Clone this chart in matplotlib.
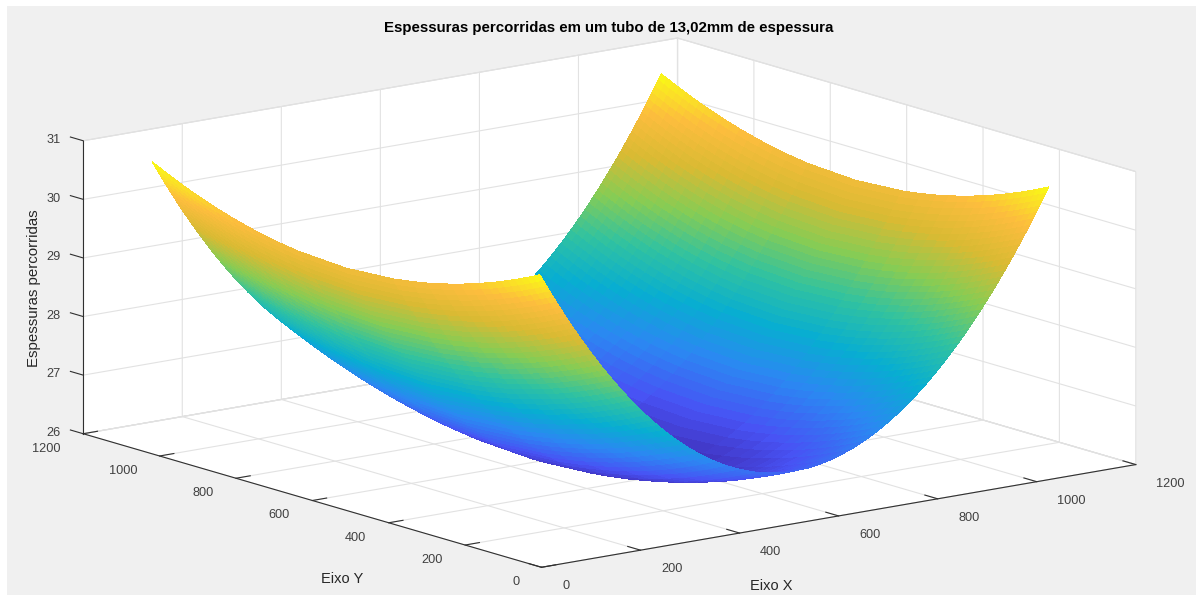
import matplotlib
matplotlib.use('Agg')
import matplotlib.pyplot as plt
from matplotlib.colors import LinearSegmentedColormap, Normalize
from matplotlib.patches import Rectangle
import numpy as np

plt.rcParams['font.family'] = ['Liberation Sans', 'DejaVu Sans']

x_ticks = [0, 200, 400, 600, 800, 1000, 1200]
y_ticks = [0, 200, 400, 600, 800, 1000, 1200]
z_ticks = [26, 27, 28, 29, 30, 31]

# stations are closer at the ends, where the curve is steep
x_pos = [80, 86.3, 92.7, 99.2, 105.7, 112.4, 119.1, 125.9, 132.8, 139.9, 147,
         154.3, 161.7, 169.2, 176.9, 184.7, 192.7, 200.7, 209, 217.5, 226.2,
         235, 244.1, 253.4, 263, 272.9, 283.1, 293.6, 304.5, 315.9, 327.7,
         340.2, 353.1, 367, 381.6, 397.4, 414.5, 433.5, 454.9, 480.5, 513.7,
         537.3, 566, 594, 622, 650.7, 674.3, 707.5, 733.1, 754.5, 773.5,
         790.6, 806.4, 821, 834.9, 847.8, 860.3, 872.1, 883.5, 894.4, 904.9,
         915.1, 925, 934.6, 943.9, 953, 961.8, 970.5, 979, 987.3, 995.3,
         1003.3, 1011.1, 1018.8, 1026.3, 1033.7, 1041, 1048.1, 1055.2, 1062.1, 1068.9,
         1075.6, 1082.3, 1088.8, 1095.3, 1101.7, 1108]
# thickness along the edge at the lowest y
edge_x = [30.67, 30.57, 30.47, 30.37, 30.27, 30.17, 30.07, 29.97, 29.87, 29.77, 29.67,
          29.57, 29.47, 29.37, 29.27, 29.17, 29.07, 28.97, 28.87, 28.77, 28.67,
          28.57, 28.47, 28.37, 28.27, 28.17, 28.07, 27.97, 27.87, 27.77, 27.67,
          27.57, 27.47, 27.37, 27.27, 27.17, 27.07, 26.97, 26.87, 26.77, 26.67,
          26.62, 26.58, 26.57, 26.58, 26.62, 26.67, 26.77, 26.87, 26.97, 27.07,
          27.17, 27.27, 27.37, 27.47, 27.57, 27.67, 27.77, 27.87, 27.97, 28.07,
          28.17, 28.27, 28.37, 28.47, 28.57, 28.67, 28.77, 28.87, 28.97, 29.07,
          29.17, 29.27, 29.37, 29.47, 29.57, 29.67, 29.77, 29.87, 29.97, 30.07,
          30.17, 30.27, 30.37, 30.47, 30.57, 30.67]

y_pos = [108, 123.2, 138.8, 155, 171.7, 189.1, 207.3, 226.2, 246.2, 267.4, 289.8, 314,
         340.2, 369.3, 402.3, 441.4, 492.5, 615.5, 738.5, 789.6, 828.7, 861.7, 890.8,
         917, 941.2, 963.6, 984.8, 1004.8, 1023.7, 1041.9, 1059.3, 1076, 1092.2, 1107.8, 1123]
# drop of the surface across y, same at every x
drop_y = [0, 0.05, 0.1, 0.15, 0.2, 0.25, 0.3, 0.35, 0.4, 0.45, 0.5, 0.55,
          0.6, 0.65, 0.7, 0.75, 0.8, 0.85, 0.8, 0.75, 0.7, 0.65, 0.6,
          0.55, 0.5, 0.45, 0.4, 0.35, 0.3, 0.25, 0.2, 0.15, 0.1, 0.05, 0]

parula_colors = [(0.2422, 0.1504, 0.6603), (0.2810, 0.3228, 0.9579), (0.1700, 0.5300, 0.9500),
                 (0.0300, 0.6800, 0.8200), (0.1900, 0.7600, 0.6300), (0.5300, 0.8000, 0.3300),
                 (0.8500, 0.7300, 0.2000), (0.9900, 0.7400, 0.2400), (0.9769, 0.9839, 0.0805)]
parula = LinearSegmentedColormap.from_list('parula', parula_colors, N=256)

X, Y = np.meshgrid(x_pos, y_pos)
Z = np.array(edge_x)[None, :] - np.array(drop_y)[:, None]

fig = plt.figure(figsize=(11.96, 5.95), dpi=100, facecolor='white')
fig.add_artist(Rectangle((7 / 1196, 0), 1189 / 1196, 589 / 595, transform=fig.transFigure,
                         facecolor='#f0f0f0', edgecolor='none', zorder=-5))

ax = fig.add_axes([0.0029, -0.0222, 1, 1], projection='3d')
ax.patch.set_alpha(0)
ax.set_proj_type('ortho')
ax.view_init(elev=12.97, azim=-127.6)
ax.set_box_aspect((751, 752, 301), zoom=1.80)

surf = ax.plot_surface(X, Y, Z, cmap=parula, norm=Normalize(25.72, 30.67), rcount=len(y_pos), ccount=len(x_pos),
                       linewidth=0, antialiased=False, shade=False)
surf.set_clip_on(False)

ax.set_xlim(0, 1200, view_margin=0)
ax.set_ylim(0, 1200, view_margin=0)
ax.set_zlim(26, 31, view_margin=0)
ax.set_xticks(x_ticks)
ax.set_yticks(y_ticks)
ax.set_zticks(z_ticks)

for axis in [ax.xaxis, ax.yaxis, ax.zaxis]:
    axis.set_pane_color('white')
    axis.pane.set_edgecolor('#d8d8d8')
    axis.pane.set_linewidth(0.8)
    axis.line.set_color('#303030')
    axis.line.set_linewidth(0.8)
    axis._axinfo['grid']['color'] = '#e2e2e2'
    axis._axinfo['grid']['linewidth'] = 0.8
    axis._axinfo['tick']['inward_factor'] = 0.0

ax.xaxis._axinfo['tick']['outward_factor'] = 0.35
ax.yaxis._axinfo['tick']['outward_factor'] = 0.3
ax.zaxis._axinfo['tick']['outward_factor'] = 0.35
# matlab points the z ticks along y
ax.zaxis._get_tickdir = lambda position: 1

ax.tick_params(axis='both', labelsize=9.2, labelcolor='#404040', color='#303030', width=0.8)
ax.tick_params(axis='x', pad=2)
ax.tick_params(axis='y', pad=0.4)
ax.tick_params(axis='z', pad=-3.2)
plt.setp(ax.get_xticklabels(), ha='left', va='center')
plt.setp(ax.get_yticklabels(), ha='right', va='center')
plt.setp(ax.get_zticklabels(), ha='right', va='center')

fig.text(771 / 1196, 1 - 586 / 595, 'Eixo X', fontsize=10.5, color='#262626', ha='center', va='center')
fig.text(342 / 1196, 1 - 579 / 595, 'Eixo Y', fontsize=10.5, color='#262626', ha='center', va='center')
fig.text(34 / 1196, 1 - 288 / 595, 'Espessuras percorridas', fontsize=10.8, color='#262626',
         rotation=90, ha='center', va='center')

fig.text(609 / 1196, 1 - 28 / 595, 'Espessuras percorridas em um tubo de 13,02mm de espessura',
         fontsize=10.8, fontweight='bold', color='black', ha='center', va='center')

fig.savefig('out.png', dpi=100, facecolor=fig.get_facecolor())
